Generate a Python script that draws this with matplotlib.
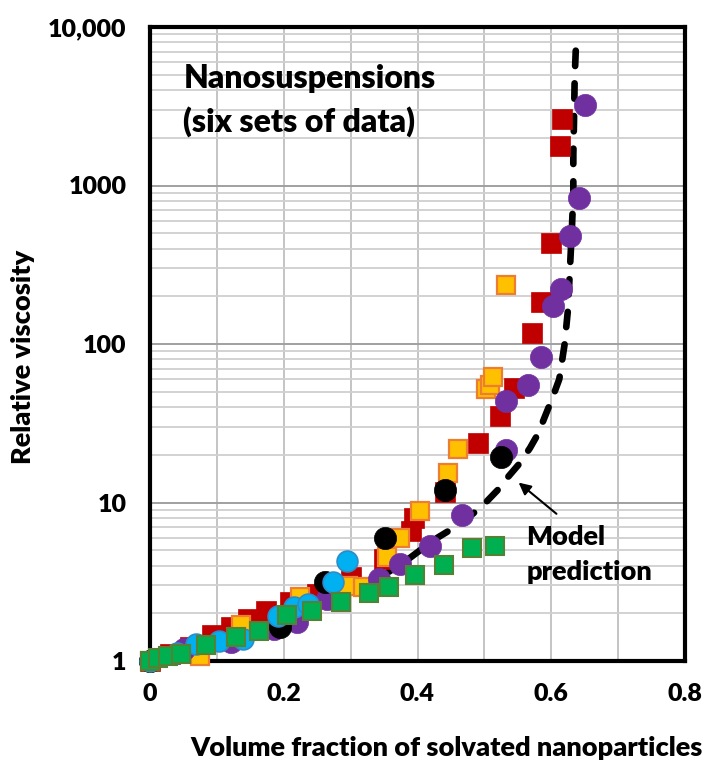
import matplotlib
matplotlib.use("Agg")
import matplotlib.pyplot as plt
from matplotlib.ticker import FixedLocator, LogLocator, NullFormatter

plt.rcParams['font.family'] = ['Lato', 'DejaVu Sans']
plt.rcParams['font.weight'] = 'bold'

# ---------------- data ----------------
red_x = [0.0, 0.03, 0.06, 0.093, 0.121, 0.146, 0.173, 0.21, 0.25, 0.30, 0.35, 0.39, 0.395,
         0.441, 0.49, 0.523, 0.545, 0.571, 0.584, 0.599, 0.613, 0.616]
red_y = [1.0, 1.1, 1.22, 1.45, 1.65, 1.85, 2.07, 2.35, 2.65, 3.4, 4.4, 6.6, 8.0,
         11.7, 23.7, 35, 53, 118, 183, 435, 1770, 2620]

orange_x = [0.0, 0.075, 0.136, 0.225, 0.296, 0.318, 0.355, 0.374, 0.404, 0.446, 0.461,
            0.502, 0.508, 0.513, 0.533]
orange_y = [1.0, 1.07, 1.69, 2.55, 2.98, 2.95, 4.5, 6.0, 8.9, 15.3, 21.6,
            52, 55, 62, 236]

purple_x = [0.0, 0.051, 0.121, 0.185, 0.22, 0.265, 0.342, 0.374, 0.418, 0.467, 0.533,
            0.533, 0.565, 0.585, 0.602, 0.615, 0.628, 0.642, 0.651]
purple_y = [1.0, 1.19, 1.31, 1.59, 1.75, 2.45, 3.3, 4.1, 5.35, 8.4, 21.4,
            44, 55, 83, 174, 221, 478, 834, 3210]

black_x = [0.0, 0.194, 0.262, 0.352, 0.441, 0.525]
black_y = [1.0, 1.65, 3.15, 6.0, 12.0, 19.4]

blue_x = [0.0, 0.04, 0.069, 0.103, 0.139, 0.191, 0.215, 0.237, 0.274, 0.295]
blue_y = [1.0, 1.12, 1.28, 1.34, 1.37, 1.92, 2.18, 2.28, 3.13, 4.25]

green_x = [0.0, 0.012, 0.027, 0.046, 0.084, 0.128, 0.163, 0.205, 0.242, 0.285,
           0.327, 0.357, 0.396, 0.439, 0.481, 0.516]
green_y = [1.0, 1.04, 1.07, 1.1, 1.27, 1.42, 1.55, 1.95, 2.07, 2.34,
           2.7, 2.94, 3.47, 4.06, 5.17, 5.35]

model_x = [0.345, 0.38, 0.404, 0.43, 0.456, 0.48, 0.50, 0.52, 0.536, 0.552, 0.568, 0.58,
           0.593, 0.602, 0.612, 0.62, 0.625, 0.628, 0.631, 0.633, 0.633, 0.634, 0.635, 0.637]
model_y = [3.4, 4.2, 5.0, 6.0, 7.0, 8.3, 9.8, 12.0, 14.6, 17.5, 22, 27,
           37, 46, 60, 100, 165, 300, 550, 900, 1570, 2540, 4700, 7800]

x_ticks = [0, 0.2, 0.4, 0.6, 0.8]
x_tick_labels = ['0', '0.2', '0.4', '0.6', '0.8']
y_ticks = [1, 10, 100, 1000, 10000]
y_tick_labels = ['1', '10', '100', '1000', '10,000']

W = 'heavy'

# ---------------- figure ----------------
fig = plt.figure(figsize=(7.05, 7.65), dpi=100)
ax = fig.add_axes([150/705, 1-661/765, 535/705, 634/765])
ax.set_yscale('log')
ax.set_xlim(0, 0.8)
ax.set_ylim(1, 10000)

# grid
ax.xaxis.set_major_locator(FixedLocator([i/10 for i in range(9)]))
ax.xaxis.set_major_formatter(NullFormatter())
ax.yaxis.set_major_locator(FixedLocator(y_ticks))
ax.yaxis.set_minor_locator(LogLocator(base=10, subs=range(2, 10)))
ax.yaxis.set_minor_formatter(NullFormatter())
ax.grid(True, which='major', axis='x', color='#BFBFBF', lw=1.3)
ax.grid(True, which='major', axis='y', color='#A0A0A0', lw=1.4)
ax.grid(True, which='minor', axis='y', color='#CFCFCF', lw=1.3)
ax.set_axisbelow(True)
ax.tick_params(which='both', length=0)

ax.set_yticklabels(y_tick_labels, fontweight=W)
ax.tick_params(axis='y', pad=17, labelsize=18)
for x, lab in zip(x_ticks, x_tick_labels):
    ax.text(x, -0.035, lab, transform=ax.get_xaxis_transform(), ha='center', va='top',
            fontsize=18, fontweight=W)

for sp in ax.spines.values():
    sp.set_linewidth(3)
    sp.set_color('black')

# model line
ax.plot(model_x, model_y, color='black', lw=4.8, linestyle=(0, (2.3, 2.6)),
        dash_capstyle='round', zorder=2)

ms_sq = 14.6
ms_c = 16.0
ax.plot(red_x, red_y, 's', ms=ms_sq, color='#C00000', mec='#C00000', mew=0.5, zorder=3, clip_on=False)
ax.plot(orange_x, orange_y, 's', ms=ms_sq - 1, color='#FFC000', mec='#ED7D31', mew=1.6, zorder=4, clip_on=False)
ax.plot(purple_x, purple_y, 'o', ms=ms_c, color='#7030A0', mec='#7030A0', mew=0.5, zorder=5, clip_on=False)
ax.plot(black_x, black_y, 'o', ms=ms_c, color='black', mec='black', mew=0.5, zorder=6, clip_on=False)
ax.plot(blue_x, blue_y, 'o', ms=ms_c - 1, color='#00B0F0', mec='#2E8BC8', mew=1.2, zorder=7, clip_on=False)
ax.plot(green_x, green_y, 's', ms=ms_sq - 1, color='#00B050', mec='#548235', mew=1.5, zorder=8, clip_on=False)

# texts
ax.text(0.05, 4100, 'Nanosuspensions', fontsize=23, fontweight=W, va='baseline', ha='left')
ax.text(0.05, 2200, '(six sets of data)', fontsize=23, fontweight=W, va='baseline', ha='left')
ax.text(0.563, 5.36, 'Model', fontsize=19.5, fontweight=W, va='baseline', ha='left', zorder=10)
ax.text(0.563, 3.23, 'prediction', fontsize=19.5, fontweight=W, va='baseline', ha='left', zorder=10)
ax.annotate('', xy=(0.548, 13.7), xytext=(0.611, 8.27),
            arrowprops=dict(arrowstyle='-|>', color='black', lw=1.5, mutation_scale=18),
            zorder=10)

ax.set_ylabel('Relative viscosity', fontsize=19.5, fontweight=W)
ax.yaxis.set_label_coords(-0.215, 0.48)
fig.text(0.5 * (193 + 700) / 705, 1 - 748/765, 'Volume fraction of solvated nanoparticles',
         ha='center', va='center', fontsize=19.5, fontweight=W)

fig.savefig('out.png', dpi=100)
